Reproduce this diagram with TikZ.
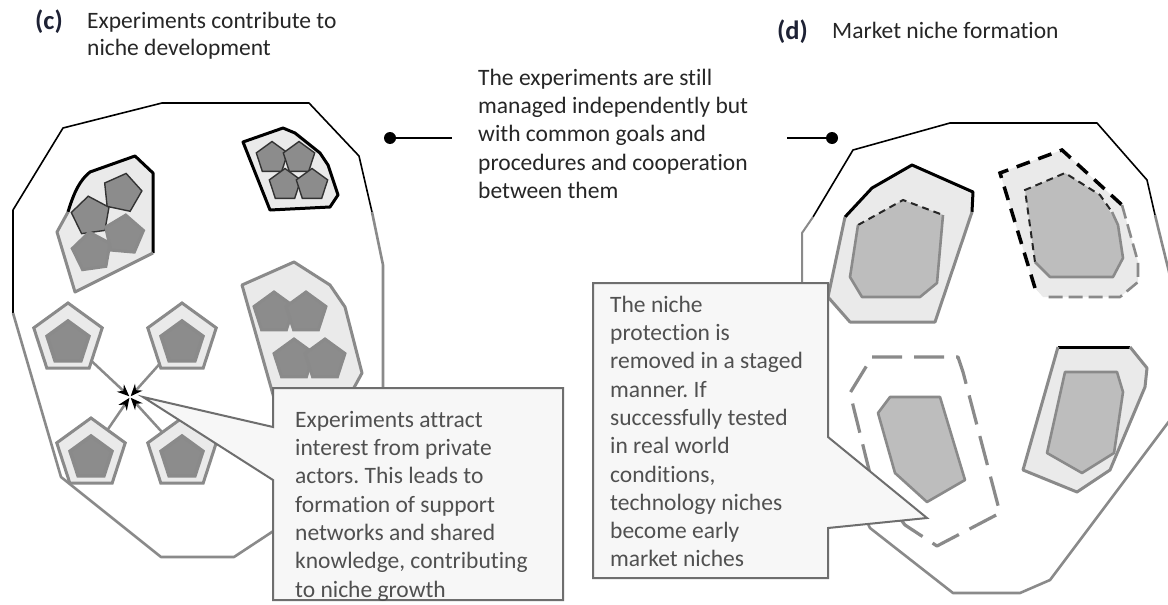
\documentclass[tikz,border=0pt]{standalone}
\usepackage{fontspec}
\setmainfont[Ligatures={NoCommon,NoContextual}]{Carlito}
\usetikzlibrary{arrows.meta,shapes.geometric}
\definecolor{lightfill}{HTML}{EAEAEA}
\definecolor{midfill}{HTML}{BDBDBD}
\definecolor{darkfill}{HTML}{8C8C8C}
\definecolor{noisy}{HTML}{8A8A8A}
\definecolor{boxfill}{HTML}{F7F7F7}
\definecolor{txtgray}{HTML}{505050}
\definecolor{labelcol}{HTML}{1E2235}
\newcommand\ftxt{\fontsize{23.5}{28.3}\selectfont}
\newcommand\fttl{\fontsize{23.5}{27}\selectfont}
\newcommand\flab{\fontsize{26.5}{30}\selectfont}
\frenchspacing
\begin{document}
\begin{tikzpicture}[x=1pt,y=-1pt,
  blackline/.style={draw=black, line width=1.6pt, line join=round},
  greyline/.style={draw=noisy, line width=2.6pt, line join=round},
  thickblack/.style={draw=black, line width=3pt, line join=round},
  pent/.style={regular polygon, regular polygon sides=5, inner sep=0pt, outer sep=0pt, minimum size=#1},
  darkpent/.style={pent=#1, fill=darkfill, draw=black!80, line width=1.4pt},
  greypent/.style={pent=#1, fill=darkfill, draw=noisy, line width=3pt},
  outerpent/.style={pent=72, fill=lightfill, draw=noisy, line width=3pt},
  innerpent/.style={pent=44, fill=darkfill, draw=noisy, line width=3.5pt},
  arr/.style={draw=noisy, line width=2.5pt, -{Stealth[length=12pt,width=10pt,black]}, shorten >=1pt},
  conn/.style={draw=black, line width=1.8pt},
  enddot/.style={circle, fill=black, inner sep=0pt, minimum size=12pt},
  calloutbox/.style={fill=boxfill, draw=noisy!80!black, line width=2pt, line join=miter},
  boxtext/.style={anchor=north west, inner sep=0pt, align=left, font=\ftxt, text=txtgray},
  plaintext/.style={anchor=north west, inner sep=0pt, align=left, font=\ftxt, text=black!85},
  ttltext/.style={anchor=north west, inner sep=0pt, align=left, font=\fttl, text=black!85},
  panellabel/.style={anchor=base west, inner sep=0pt, font=\flab\bfseries, text=labelcol},
  dashouter/.style={draw=black, line width=3.5pt, dash pattern=on 14pt off 9pt},
  dashinner/.style={draw=black!85, line width=2pt, dash pattern=on 7pt off 5pt},
  bigdash/.style={draw=noisy, line width=3.2pt, dash pattern=on 30pt off 12pt, line join=round}
]
\useasboundingbox (0,0) rectangle (1168,605);
\fill[white] (0,0) rectangle (1168,605);

% ---------------- titles ----------------
\node[panellabel] (labc) at (35,29) {(c)};
\node[ttltext] (ttlc) at (87,9.1) {\strut Experiments contribute to\\ niche development};
\node[panellabel] (labd) at (777,39) {(d)};
\node[anchor=base west, inner sep=0pt, font=\fttl, text=black!85] (ttld) at (832,38) {Market niche formation};

% ---------------- middle text and connectors ----------------
\node[plaintext] (midtext) at (478,65.2) {\strut The experiments are still\\ managed independently but\\ with common goals and\\ procedures and cooperation\\ between them};
\node[enddot] (dotL) at (390,138) {};
\coordinate (lineL) at (452,138);
\draw[conn] (dotL) -- (lineL);
\node[enddot] (dotR) at (832,138) {};
\coordinate (lineR) at (787,138);
\draw[conn] (lineR) -- (dotR);

% ================= panel (c) =================
% blob outline
\draw[blackline] (13,313) -- (13,210) -- (63,128) -- (162,103) -- (309,103) -- (359,156) -- (372,212);
\draw[greyline] (372,212) -- (383,265) -- (383,420);
\draw[greyline] (278,528) -- (234,557) -- (161,557) -- (61,477) -- (13,313);

% upper-left cluster
\fill[lightfill] (68,212) .. controls (74,192) and (80,180) .. (90,172) -- (135,156) -- (153,173) -- (153,253) -- (75,292) -- (57,232) -- cycle;
\node[darkpent=40, shape border rotate=-12] (ul1) at (122,193) {};
\node[darkpent=40, shape border rotate=8] (ul2) at (91,216) {};
\node[greypent=40, shape border rotate=8] (ul3) at (92,252) {};
\node[greypent=40, shape border rotate=-5] (ul4) at (124,235) {};
\draw[thickblack] (68,212) .. controls (74,192) and (80,180) .. (90,172) -- (135,156) -- (153,173) -- (153,253);
\draw[greyline, line width=3pt] (153,253) -- (75,292) -- (57,232) -- (68,212);

% upper-right cluster
\filldraw[fill=lightfill, thickblack] (243,142) -- (283,128) -- (295,133) -- (320,153) -- (328,165) -- (338,195) -- (330,207) -- (270,210) -- cycle;
\node[darkpent=33] (ur1) at (272,158) {};
\node[darkpent=33] (ur2) at (299,158) {};
\node[darkpent=33] (ur3) at (285,185) {};
\node[darkpent=33] (ur4) at (312,185) {};

% lower-right cluster
\filldraw[fill=lightfill, greyline, line width=3pt] (242,285) -- (294,262) -- (330,285) -- (345,307) -- (362,373) -- (350,395) -- (274,398) -- cycle;
\node[greypent=42] (lr1) at (274,313) {};
\node[greypent=42] (lr2) at (306,313) {};
\node[greypent=42] (lr3) at (294,360) {};
\node[greypent=42] (lr4) at (325,360) {};

% four experiments and star
\node[outerpent] (sTL) at (68,339) {};
\node[innerpent] (iTL) at (68,343) {};
\node[outerpent] (sTR) at (182,339) {};
\node[innerpent] (iTR) at (182,343) {};
\node[outerpent] (sBL) at (91,454) {};
\node[innerpent] (iBL) at (91,458) {};
\node[outerpent] (sBR) at (182,454) {};
\node[innerpent] (iBR) at (182,458) {};
\coordinate (star) at (130,397);
\draw[arr] (sTL) -- (star);
\draw[arr] (sTR) -- (star);
\draw[arr] (sBL) -- (star);
\draw[arr] (sBR) -- (star);

% callout (c)
\filldraw[calloutbox] (273,388) -- (563,388) -- (563,600) -- (273,600) -- (273,480) -- (143,397) -- (273,427) -- cycle;
\node[boxtext] (textc) at (295,407.2) {\strut Experiments attract\\ interest from private\\ actors. This leads to\\ formation of support\\ networks and shared\\ knowledge, contributing\\ to niche growth};

% ================= panel (d) =================
% blob outline
\draw[blackline] (813,217) -- (853,150) -- (950,123) -- (1097,123) -- (1147,180) -- (1155,215);
\draw[greyline] (1155,215) -- (1170,276);
\draw[greyline] (1170,420) -- (1050,580) -- (1020,593) -- (953,593) -- (870,528) -- (828,440);
\draw[greyline, line width=2pt] (813,217) -- (802,233) -- (802,290);

% top-left cluster
\fill[lightfill] (845,217) -- (872,188) -- (912,165) -- (973,192) -- (972,212) -- (935,322) -- (850,322) -- (828,297) -- cycle;
\draw[thickblack] (845,217) -- (872,188) -- (912,165) -- (973,192) -- (972,212);
\draw[greyline, line width=3pt] (972,212) -- (935,322) -- (850,322) -- (828,297) -- (845,217);
\fill[midfill] (858,225) -- (903,200) -- (943,215) -- (937,283) -- (920,297) -- (862,297) -- (850,277) -- cycle;
\draw[dashinner] (858,225) -- (903,200) -- (943,215);
\draw[greyline] (943,215) -- (937,283) -- (920,297) -- (862,297) -- (850,277) -- (858,225);

% top-right cluster
\fill[lightfill] (1000,173) -- (1062,150) -- (1122,205) -- (1138,262) -- (1138,282) -- (1120,297) -- (1043,297) -- (1035,288) -- cycle;
\draw[dashouter] (1035,288) -- (1000,173) -- (1062,150) -- (1122,205);
\draw[greyline, dash pattern=on 14pt off 6pt] (1122,205) -- (1138,262) -- (1138,282) -- (1120,297) -- (1043,297);
\fill[midfill] (1025,190) -- (1065,173) -- (1100,195) -- (1118,225) -- (1123,258) -- (1113,277) -- (1050,277) -- (1035,262) -- cycle;
\draw[dashinner] (1035,262) -- (1025,190) -- (1065,173) -- (1100,195) -- (1112,212);
\draw[greyline] (1112,212) -- (1118,225) -- (1123,258) -- (1113,277) -- (1050,277) -- (1035,262);

% bottom-left cluster
\draw[bigdash] (872,357) -- (958,357) -- (963,372) -- (1000,513) -- (937,546) -- (905,525) -- (872,482) -- (850,393) -- cycle;
\filldraw[fill=midfill, greyline] (890,397) -- (940,397) -- (965,480) -- (927,502) -- (895,473) -- (878,413) -- cycle;

% bottom-right cluster
\fill[lightfill] (1058,347) -- (1130,347) -- (1147,368) -- (1145,387) -- (1110,470) -- (1077,492) -- (1023,470) -- cycle;
\draw[thickblack] (1058,347) -- (1130,347);
\draw[greyline, line width=3pt] (1130,347) -- (1147,368) -- (1145,387) -- (1110,470) -- (1077,492) -- (1023,470) -- (1058,347);
\filldraw[fill=midfill, greyline] (1065,372) -- (1117,372) -- (1123,392) -- (1114,453) -- (1082,473) -- (1047,453) -- cycle;

% callout (d)
\filldraw[calloutbox] (593,283) -- (828,283) -- (828,437) -- (927,518) -- (828,528) -- (828,578) -- (593,578) -- cycle;
\node[boxtext] (textd) at (610,292.2) {\strut The niche\\ protection is\\ removed in a staged\\ manner. If\\ successfully tested\\ in real world\\ conditions,\\ technology niches\\ become early\\ market niches};
\end{tikzpicture}
\end{document}
